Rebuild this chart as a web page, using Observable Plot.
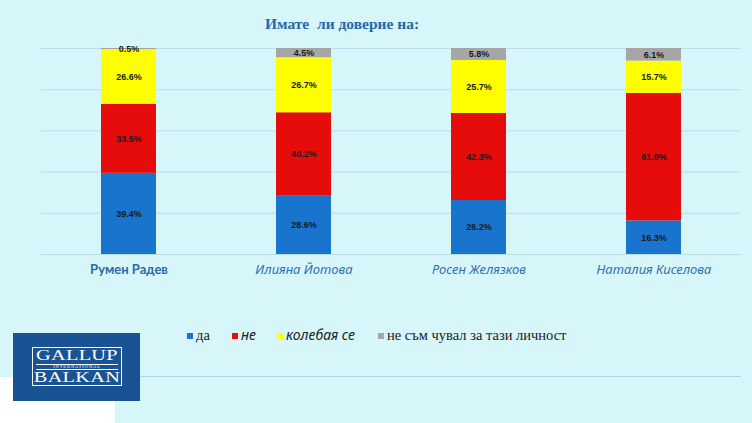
<!DOCTYPE html>
<html>
<head>
<meta charset="utf-8">
<script src="https://cdn.jsdelivr.net/npm/d3@7"></script>
<script src="https://cdn.jsdelivr.net/npm/@observablehq/plot@0.6"></script>
<style>
  html, body { margin: 0; padding: 0; }
  body { width: 752px; height: 423px; overflow: hidden; background: #d6f6fa; }
  #wrap { position: relative; width: 752px; height: 423px; background: #d6f6fa; }
  #white { position: absolute; left: 0; top: 377px; width: 115px; height: 46px; background: #ffffff; }
  #rule { position: absolute; left: 140px; top: 376px; width: 601px; height: 0; border-top: 1.5px solid #a9d9e6; }
  #title { position: absolute; left: 0; width: 684px; top: 15px; text-align: center; font-family: "Liberation Serif", serif; font-weight: bold; font-size: 15.5px; color: #2569a9; white-space: pre; }
  #chart { position: absolute; left: 0; top: 0; }
  #legend { position: absolute; top: 327px; left: 0; width: 752px; height: 18px; color: #222; }
  .li { position: absolute; top: 0; white-space: nowrap; line-height: 16px; }
  .sw { display: inline-block; width: 6px; height: 6px; margin-right: 3px; vertical-align: 1px; }
  #logo { position: absolute; left: 13px; top: 333px; width: 127px; height: 68px; background: #1a5394; }
  #logobox { position: absolute; left: 19px; top: 14px; width: 88px; height: 37px; border: 1.5px solid #fff; }
  .lg { position: absolute; left: 0; width: 88px; text-align: center; color: #fff; font-family: "Liberation Serif", serif; white-space: nowrap; }
  .big { font-size: 14px; line-height: 15px; transform: scaleX(1.45); transform-origin: 50% 50%; letter-spacing: 0.2px; }
</style>
</head>
<body>
<div id="wrap">
  <div id="white"></div>
  <div id="rule"></div>
  <div id="chart"></div>
  <div id="title">Имате  ли доверие на:</div>
  <div id="legend"></div>
  <div id="logo">
    <div id="logobox">
      <div class="lg big" style="top:0px;">GALLUP</div>
      <div class="lg" style="top:15.5px;left:3px;width:82px;height:4px;border-top:1px solid #fff;border-bottom:1px solid #fff;font-size:4.5px;line-height:4px;letter-spacing:0.9px;">INTERNATIONAL</div>
      <div class="lg big" style="top:21.5px;">BALKAN</div>
    </div>
  </div>
</div>
<script>
const categories = ["Румен Радев", "Илияна Йотова", "Росен Желязков", "Наталия Киселова"];
const series = ["да", "не", "колебая се", "не съм чувал за тази личност"];
const da = [39.4, 28.6, 26.2, 16.3];
const ne = [33.5, 40.2, 42.3, 61.9];
const kolebaya = [26.6, 26.7, 25.7, 15.7];
const nechuval = [0.5, 4.5, 5.8, 6.1];
const colors = ["#1874cd", "#e60c0c", "#ffff00", "#a6a6a6"];
const yTicks = [0, 20, 40, 60, 80, 100];

const valuesBySeries = [da, ne, kolebaya, nechuval];
const data = [];
series.forEach((s, si) => {
  categories.forEach((c, ci) => {
    data.push({category: c, series: s, value: valuesBySeries[si][ci]});
  });
});

const chart = Plot.plot({
  width: 752,
  height: 423,
  marginTop: 48,
  marginBottom: 169,
  marginLeft: 41,
  marginRight: 11,
  style: {background: "transparent", overflow: "visible"},
  x: {domain: categories, paddingInner: 0.686, paddingOuter: 0.343, axis: null, label: null},
  y: {domain: [0, 100], axis: null, label: null},
  color: {domain: series, range: colors},
  marks: [
    Plot.gridY(yTicks, {stroke: "#bcdde6", strokeOpacity: 1, strokeWidth: 1}),
    Plot.barY(data, Plot.stackY({x: "category", y: "value", fill: "series", order: series})),
    Plot.text(data, Plot.stackY({
      x: "category", y: "value", z: "series", order: series,
      text: d => d.value.toFixed(1) + "%",
      fill: "#1a1a1a", fontSize: 9, fontWeight: "bold",
      fontFamily: "Liberation Sans, Arial, sans-serif"
    })),
    Plot.axisX({
      ticks: [categories[0]], tickSize: 0, tickPadding: 10, label: null,
      fontSize: 13, fontWeight: "bold", fontFamily: "Lato, sans-serif",
      fill: "#2a6aa6", anchor: "bottom"
    }),
    Plot.axisX({
      ticks: categories.slice(1), tickSize: 0, tickPadding: 10, label: null,
      fontSize: 13, fontStyle: "italic", fontFamily: "Noto Sans, sans-serif",
      fill: "#2f72b3", anchor: "bottom"
    })
  ]
});
document.getElementById("chart").appendChild(chart);

// legend
const legendX = [187, 232, 277, 378];
const legendStyles = [
  {family: "Liberation Serif, serif", style: "normal", size: "14.5px"},
  {family: "Noto Sans, sans-serif", style: "italic", size: "14px"},
  {family: "Noto Sans, sans-serif", style: "italic", size: "14px"},
  {family: "Liberation Serif, serif", style: "normal", size: "14.5px"}
];
const legend = document.getElementById("legend");
series.forEach((s, i) => {
  const item = document.createElement("div");
  item.className = "li";
  item.style.left = legendX[i] + "px";
  item.style.fontFamily = legendStyles[i].family;
  item.style.fontStyle = legendStyles[i].style;
  item.style.fontSize = legendStyles[i].size;
  const sw = document.createElement("span");
  sw.className = "sw";
  sw.style.background = colors[i];
  item.appendChild(sw);
  item.appendChild(document.createTextNode(s));
  legend.appendChild(item);
});
</script>
</body>
</html>
